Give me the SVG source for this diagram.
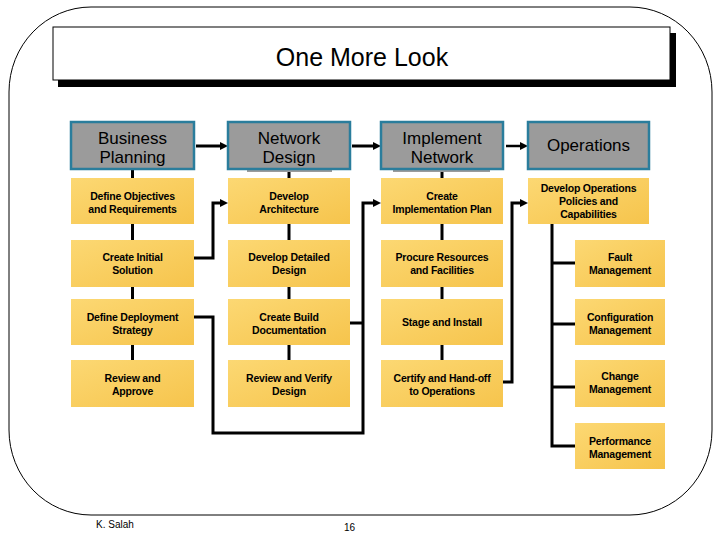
<svg xmlns="http://www.w3.org/2000/svg" width="720" height="540" viewBox="0 0 720 540">
<style>
.frame{fill:none;stroke:#000;stroke-width:1}
.hdr{fill:#9b9b9b;stroke:#2a7d9c;stroke-width:2.5}
.tab{fill:#9b9b9b}
.box{fill:url(#yel)}
.ht{font-family:"Liberation Sans",Arial,sans-serif;font-size:17px;fill:#000;text-anchor:middle}
.bt{font-family:"Liberation Sans",Arial,sans-serif;font-size:10.5px;font-weight:bold;letter-spacing:-0.2px;fill:#000;text-anchor:middle}
.con{fill:none;stroke:#000;stroke-width:3;stroke-linejoin:miter}
.ft{font-family:"Liberation Sans",Arial,sans-serif;font-size:10px;fill:#000}
</style>
<defs>
<linearGradient id="yel" x1="0" y1="0" x2="1" y2="1">
<stop offset="0" stop-color="#fcd873"/>
<stop offset="1" stop-color="#f6c44c"/>
</linearGradient>
<marker id="arr" markerUnits="userSpaceOnUse" markerWidth="9" markerHeight="9" refX="0" refY="4" orient="auto">
<path d="M0,0 L8,4 L0,8 z" fill="#000"/>
</marker>
</defs>
<rect width="720" height="540" fill="#fff"/>
<rect class="frame" x="9" y="7" width="703" height="508" rx="82" ry="85"/>
<g id="title">
<rect x="58" y="33" width="618" height="54" fill="#000"/>
<rect x="53" y="27" width="617" height="53" fill="#fff" stroke="#000" stroke-width="1"/>
<text x="362" y="66" font-family="'Liberation Sans',Arial,sans-serif" font-size="25" text-anchor="middle">One More Look</text>
</g>
<g id="connectors">
<path class="con" d="M132.5,169 V360"/>
<path class="con" d="M289,169 V360"/>
<path class="con" d="M442,169 V360"/>
<path class="con" d="M196,146 H220" marker-end="url(#arr)"/>
<path class="con" d="M352,146 H373" marker-end="url(#arr)"/>
<path class="con" d="M506,146 H520" marker-end="url(#arr)" style="stroke-width:2.5"/>
<path class="con" d="M194,258 H213 V203 H220" marker-end="url(#arr)"/>
<path class="con" d="M194,317 H213 V433 H363 V203 H373" marker-end="url(#arr)"/>
<path class="con" d="M350,323 H363"/>
<path class="con" d="M503,382 H512 V203 H520" marker-end="url(#arr)"/>
<path class="con" d="M552,224 V446 H575"/>
<path class="con" d="M552,263 H575"/>
<path class="con" d="M552,324 H575"/>
<path class="con" d="M552,387 H575"/>
</g>
<g id="business-planning">
<rect class="hdr" x="71" y="122" width="123" height="47"/>
<text class="ht" x="132.5" y="144">Business</text>
<text class="ht" x="132.5" y="163">Planning</text>
</g>
<g id="network-design">
<rect class="tab" x="247" y="168" width="85" height="4"/>
<rect class="hdr" x="228" y="122" width="122" height="47"/>
<text class="ht" x="289" y="144">Network</text>
<text class="ht" x="289" y="163">Design</text>
</g>
<g id="implement-network">
<rect class="tab" x="393" y="168" width="97" height="4"/>
<rect class="hdr" x="381" y="122" width="122" height="47"/>
<text class="ht" x="442" y="144">Implement</text>
<text class="ht" x="442" y="163">Network</text>
</g>
<g id="operations">
<rect class="hdr" x="528" y="122" width="121" height="47"/>
<text class="ht" x="588.5" y="151">Operations</text>
</g>
<g id="define-objectives">
<rect class="box" x="71" y="178" width="123" height="46"/>
<text class="bt" x="132.5" y="200">Define Objectives</text>
<text class="bt" x="132.5" y="213">and Requirements</text>
</g>
<g id="create-initial-solution">
<rect class="box" x="71" y="240" width="123" height="47"/>
<text class="bt" x="132.5" y="261">Create Initial</text>
<text class="bt" x="132.5" y="274">Solution</text>
</g>
<g id="define-deployment-strategy">
<rect class="box" x="71" y="299" width="123" height="46"/>
<text class="bt" x="132.5" y="321">Define Deployment</text>
<text class="bt" x="132.5" y="334">Strategy</text>
</g>
<g id="review-and-approve">
<rect class="box" x="71" y="360" width="123" height="47"/>
<text class="bt" x="132.5" y="382">Review and</text>
<text class="bt" x="132.5" y="395">Approve</text>
</g>
<g id="develop-architecture">
<rect class="box" x="228" y="178" width="122" height="46"/>
<text class="bt" x="289" y="200">Develop</text>
<text class="bt" x="289" y="213">Architecture</text>
</g>
<g id="develop-detailed-design">
<rect class="box" x="228" y="240" width="122" height="47"/>
<text class="bt" x="289" y="261">Develop Detailed</text>
<text class="bt" x="289" y="274">Design</text>
</g>
<g id="create-build-documentation">
<rect class="box" x="228" y="299" width="122" height="46"/>
<text class="bt" x="289" y="321">Create Build</text>
<text class="bt" x="289" y="334">Documentation</text>
</g>
<g id="review-and-verify-design">
<rect class="box" x="228" y="360" width="122" height="47"/>
<text class="bt" x="289" y="382">Review and Verify</text>
<text class="bt" x="289" y="395">Design</text>
</g>
<g id="create-implementation-plan">
<rect class="box" x="381" y="178" width="122" height="46"/>
<text class="bt" x="442" y="200">Create</text>
<text class="bt" x="442" y="213">Implementation Plan</text>
</g>
<g id="procure-resources">
<rect class="box" x="381" y="240" width="122" height="47"/>
<text class="bt" x="442" y="261">Procure Resources</text>
<text class="bt" x="442" y="274">and Facilities</text>
</g>
<g id="stage-and-install">
<rect class="box" x="381" y="299" width="122" height="46"/>
<text class="bt" x="442" y="326">Stage and Install</text>
</g>
<g id="certify-and-hand-off">
<rect class="box" x="381" y="360" width="122" height="47"/>
<text class="bt" x="442" y="382">Certify and Hand-off</text>
<text class="bt" x="442" y="395">to Operations</text>
</g>
<g id="develop-operations-policies">
<rect class="box" x="528" y="178" width="121" height="46"/>
<text class="bt" x="588.5" y="192">Develop Operations</text>
<text class="bt" x="588.5" y="205">Policies and</text>
<text class="bt" x="588.5" y="218">Capabilities</text>
</g>
<g id="fault-management">
<rect class="box" x="575" y="240" width="90" height="47"/>
<text class="bt" x="620" y="261">Fault</text>
<text class="bt" x="620" y="274">Management</text>
</g>
<g id="configuration-management">
<rect class="box" x="575" y="299" width="90" height="46"/>
<text class="bt" x="620" y="321">Configuration</text>
<text class="bt" x="620" y="334">Management</text>
</g>
<g id="change-management">
<rect class="box" x="575" y="360" width="90" height="47"/>
<text class="bt" x="620" y="380">Change</text>
<text class="bt" x="620" y="393">Management</text>
</g>
<g id="performance-management">
<rect class="box" x="575" y="423" width="90" height="46"/>
<text class="bt" x="620" y="445">Performance</text>
<text class="bt" x="620" y="458">Management</text>
</g>
<text class="ft" x="96" y="528">K. Salah</text>
<text class="ft" x="344" y="531">16</text>
</svg>
